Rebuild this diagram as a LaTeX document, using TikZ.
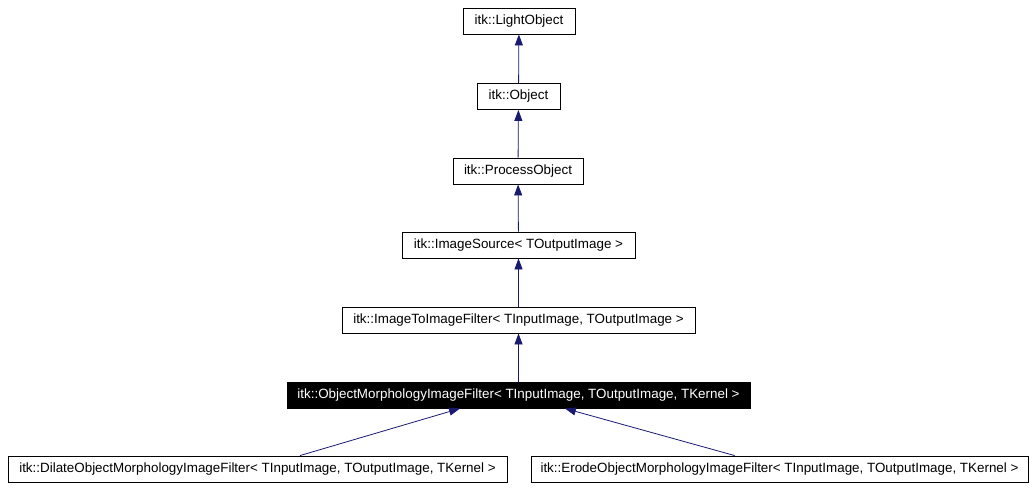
\documentclass[tikz,border=0pt]{standalone}
\usepackage{fontspec}
\setmainfont{Liberation Sans}
\usetikzlibrary{arrows.meta,calc}
\definecolor{edge}{HTML}{191970}
\tikzset{
  classbox/.style={draw=black,fill=white,line width=0.9pt,minimum height=26,inner sep=0pt,
    font=\fontsize{13.4}{15}\selectfont,text=black},
  curbox/.style={classbox,fill=black,text=white},
  inherit/.style={-{Triangle[length=11pt,width=8pt]},line width=0.8pt,draw=edge}
}
\begin{document}
\begin{tikzpicture}[x=1pt,y=-1pt]
  \useasboundingbox (0,0) rectangle (1036,490);
  \node[classbox,minimum width=112] (light) at (519,21) {itk::LightObject};
  \node[classbox,minimum width=83] (obj) at (518.5,96.5) {itk::Object};
  \node[classbox,minimum width=130] (proc) at (518,171) {itk::ProcessObject};
  \node[classbox,minimum width=233] (src) at (518.5,245) {itk::ImageSource< TOutputImage >};
  \node[classbox,minimum width=353] (i2i) at (518.5,320) {itk::ImageToImageFilter< TInputImage, TOutputImage >};
  \node[curbox,minimum width=463] (omf) at (518.5,395) {itk::ObjectMorphologyImageFilter< TInputImage, TOutputImage, TKernel >};
  \node[classbox,minimum width=499] (dilate) at (257.5,469) {itk::DilateObjectMorphologyImageFilter< TInputImage, TOutputImage, TKernel >};
  \node[classbox,minimum width=497] (erode) at (779.5,469) {itk::ErodeObjectMorphologyImageFilter< TInputImage, TOutputImage, TKernel >};

  % single inheritance chain
  \draw[inherit] (obj) -- (light);
  \draw[inherit] (proc) -- (obj);
  \draw[inherit] (src) -- (proc);
  \draw[inherit] (i2i) -- (src);
  \draw[inherit] (omf) -- (i2i);
  % two subclasses
  \draw[inherit] ($(dilate.north west)!0.585!(dilate.north east)$) -- ($(omf.south west)!0.374!(omf.south east)$);
  \draw[inherit] ($(erode.north west)!0.41!(erode.north east)$) -- ($(omf.south west)!0.60!(omf.south east)$);
\end{tikzpicture}
\end{document}
